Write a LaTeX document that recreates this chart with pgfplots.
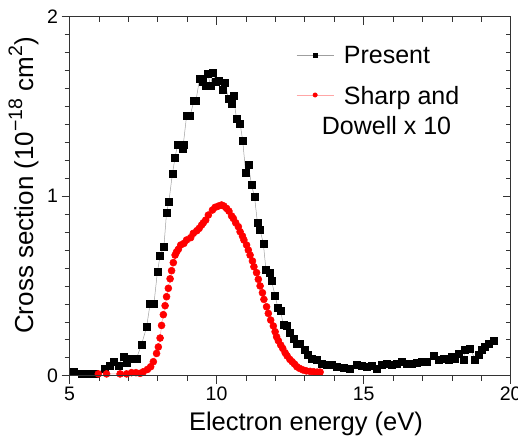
\documentclass[border=0pt]{standalone}
\usepackage{pgfplots}
\pgfplotsset{compat=1.18}
\usepackage{fontspec}
\setmainfont{Liberation Sans}
\newcommand{\sups}[1]{\raisebox{0.42em}{\fontsize{19.5}{20}\selectfont #1}}
\begin{document}
\begin{tikzpicture}
\pgfplotsset{
  myframe/.style={
    scale only axis, width=441.2pt, height=359pt,
    xmin=5, xmax=20, ymin=0, ymax=2,
    xtick={5,10,15,20}, minor xtick={6,7,8,9,11,12,13,14,16,17,18,19},
    ytick={0,1,2}, minor ytick={0.1,0.2,0.3,0.4,0.5,0.6,0.7,0.8,0.9,1.1,1.2,1.3,1.4,1.5,1.6,1.7,1.8,1.9},
    major tick length=8pt, minor tick length=5pt,
    axis line style={line width=0.8pt, black!80},
    every tick/.style={line width=0.7pt, black!80},
    /pgf/number format/assume math mode=true,
    ticklabel style={font=\fontsize{19.5}{22}\selectfont},
  }
}
\begin{axis}[myframe,
  tick align=outside, xtick pos=bottom, ytick pos=left,
  xlabel={Electron energy (eV)},
  ylabel={Cross section (10\sups{\textminus 18} cm\sups{2})},
  xlabel style={font=\fontsize{25.5}{28}\selectfont, at={(axis description cs:0.536,-0.1513)}, anchor=base},
  ylabel style={font=\fontsize{26}{28}\selectfont, at={(axis description cs:-0.0827,0.53)}, anchor=base, rotate=0},
  legend style={at={(axis description cs:0.507,0.93)}, anchor=north west, draw=none, fill=none,
    font=\fontsize{25}{30}\selectfont, row sep=15pt, column sep=8pt},
  legend cell align=left,
  legend image code/.code={\draw[mark repeat=2,mark phase=2,#1,mark size=2.2pt] plot coordinates {(0pt,0pt) (18.5pt,0pt) (37pt,0pt)};},
]
\addplot[gray!75, line width=0.5pt, mark=square*, mark size=3.5pt, mark options={black, fill=black, solid}] coordinates {
(5.13,0.020) (5.40,0.010) (5.55,0.010) (5.70,0.010) (5.85,0.012) (6.21,0.040) (6.38,0.056) (6.49,0.080)
(6.66,0.056) (6.83,0.105) (6.94,0.072) (7.10,0.097) (7.28,0.097) (7.45,0.175) (7.62,0.270) (7.74,0.400)
(7.87,0.400) (7.99,0.580) (8.08,0.667) (8.21,0.720) (8.30,0.910) (8.38,0.970) (8.50,1.127) (8.59,1.216)
(8.67,1.285) (8.85,1.266) (8.87,1.289) (8.98,1.447) (9.10,1.447) (9.23,1.532) (9.30,1.532) (9.42,1.653)
(9.53,1.638) (9.62,1.617) (9.70,1.681) (9.80,1.614) (9.87,1.688) (9.98,1.638) (10.09,1.643) (10.21,1.591)
(10.29,1.632) (10.40,1.545) (10.51,1.513) (10.57,1.558) (10.68,1.430) (10.80,1.406) (10.89,1.307) (10.99,1.131)
(11.08,1.177) (11.19,1.062) (11.29,0.997) (11.39,0.852) (11.48,0.811) (11.59,0.737) (11.68,0.589) (11.80,0.574)
(11.87,0.527) (11.99,0.446) (12.08,0.381) (12.18,0.360) (12.27,0.282) (12.38,0.279) (12.50,0.240) (12.61,0.205)
(12.72,0.176) (12.83,0.176) (13.00,0.143) (13.11,0.115) (13.23,0.097) (13.40,0.087) (13.57,0.069) (13.74,0.059)
(13.91,0.059) (14.08,0.050) (14.31,0.046) (14.54,0.041) (14.76,0.059) (14.93,0.054) (15.10,0.050) (15.27,0.054)
(15.44,0.041) (15.61,0.059) (15.78,0.069) (15.95,0.059) (16.12,0.069) (16.29,0.078) (16.46,0.069) (16.63,0.069)
(16.80,0.072) (16.97,0.078) (17.14,0.078) (17.37,0.110) (17.54,0.091) (17.71,0.097) (17.88,0.087) (17.99,0.106)
(18.11,0.097) (18.22,0.124) (18.39,0.087) (18.45,0.147) (18.62,0.152) (18.79,0.091) (18.90,0.115) (19.02,0.143)
(19.13,0.162) (19.24,0.180) (19.41,0.195)
};
\addlegendentry{Present}
\addplot[red!35, line width=0.5pt, mark=*, mark size=3.5pt, mark options={red, fill=red, draw=red, solid}] coordinates {
(5.98,0.010) (6.26,0.010) (6.72,0.010) (6.94,0.010) (7.11,0.017) (7.26,0.017) (7.40,0.013) (7.51,0.022)
(7.65,0.035) (7.76,0.050) (7.85,0.078) (7.96,0.124) (8.02,0.160) (8.08,0.210) (8.13,0.280) (8.19,0.340)
(8.25,0.390) (8.30,0.440) (8.36,0.487) (8.42,0.540) (8.47,0.585) (8.53,0.630) (8.59,0.672) (8.64,0.690)
(8.70,0.704) (8.78,0.728) (8.89,0.737) (8.98,0.756) (9.12,0.769) (9.21,0.793) (9.33,0.808) (9.41,0.821)
(9.49,0.839) (9.55,0.852) (9.63,0.867) (9.72,0.895) (9.86,0.923) (9.95,0.938) (10.06,0.945) (10.17,0.951)
(10.25,0.945) (10.34,0.932) (10.42,0.917) (10.51,0.890) (10.57,0.876) (10.65,0.852) (10.74,0.830) (10.80,0.802)
(10.88,0.778) (10.93,0.756) (11.02,0.728) (11.08,0.700) (11.14,0.672) (11.22,0.639) (11.27,0.607) (11.36,0.574)
(11.42,0.537) (11.48,0.500) (11.56,0.462) (11.61,0.425) (11.70,0.384) (11.76,0.347) (11.84,0.310) (11.93,0.277)
(11.99,0.245) (12.04,0.217) (12.10,0.195) (12.18,0.171) (12.25,0.152) (12.33,0.128) (12.40,0.110) (12.49,0.091)
(12.57,0.078) (12.65,0.065) (12.73,0.050) (12.82,0.041) (12.94,0.032) (13.05,0.027) (13.18,0.024) (13.30,0.022)
(13.42,0.020) (13.52,0.020)
};
\addlegendentry{\begin{tabular}[t]{@{}l@{}}Sharp and\\\hspace*{-22pt}Dowell x 10\end{tabular}}
\end{axis}
\begin{axis}[myframe, tick align=inside, xtick pos=top, ytick pos=right,
  xticklabels={}, yticklabels={}]
\end{axis}
\pgfresetboundingbox
\path[use as bounding box] (-69.5pt,-63.3pt) rectangle (448.5pt,375.7pt);
\end{tikzpicture}
\end{document}
